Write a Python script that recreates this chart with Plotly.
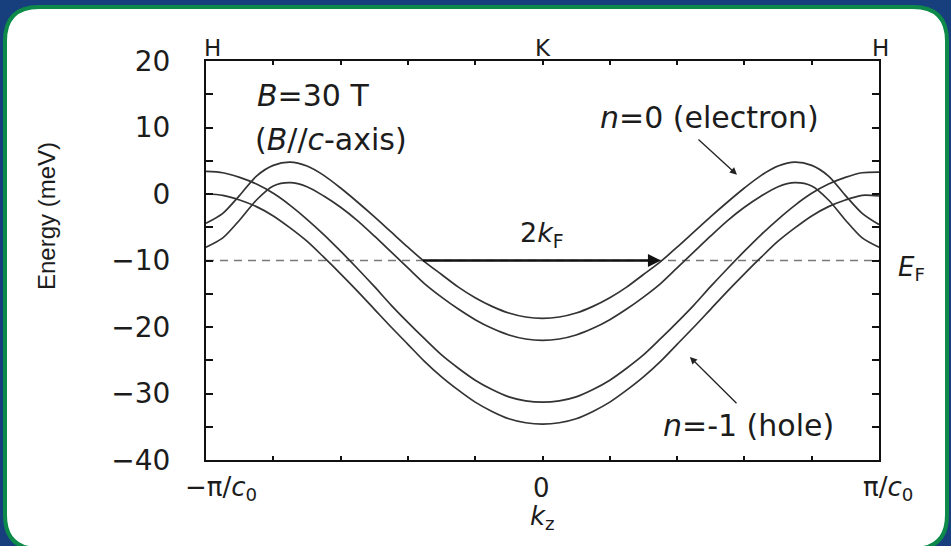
import plotly.graph_objects as go

# ---- data: Landau subband energies along k_z (units of pi/c0), B = 30 T ----
kz = [-1.00, -0.95, -0.90, -0.85, -0.80, -0.75, -0.70, -0.65, -0.60, -0.55, -0.50,
      -0.45, -0.40, -0.35, -0.30, -0.25, -0.20, -0.15, -0.10, -0.05, 0.00,
      0.05, 0.10, 0.15, 0.20, 0.25, 0.30, 0.35, 0.40, 0.45, 0.50,
      0.55, 0.60, 0.65, 0.70, 0.75, 0.80, 0.85, 0.90, 0.95, 1.00]

# n=0 (electron) pair
level_e1 = [-4.4, -2.9, -0.2, 2.7, 4.3, 4.8, 4.2, 2.8, 0.9, -1.2, -3.4,
            -5.7, -8.0, -10.2, -12.1, -14.0, -15.6, -16.9, -17.9, -18.5, -18.7,
            -18.5, -17.9, -16.9, -15.6, -14.0, -12.1, -10.2, -8.0, -5.7, -3.4,
            -1.2, 0.9, 2.8, 4.2, 4.8, 4.3, 2.7, -0.2, -2.9, -4.6]
level_e2 = [-8.0, -6.6, -3.9, -0.9, 1.2, 1.7, 1.1, -0.3, -2.0, -4.0, -6.3,
            -8.7, -11.1, -13.5, -15.5, -17.3, -18.9, -20.2, -21.2, -21.8, -22.0,
            -21.8, -21.2, -20.2, -18.9, -17.3, -15.5, -13.5, -11.1, -8.7, -6.3,
            -4.0, -2.0, -0.3, 1.1, 1.7, 1.2, -0.9, -3.9, -6.6, -8.0]
# n=-1 (hole) pair
level_h1 = [3.4, 3.2, 2.5, 1.5, 0.1, -1.7, -3.8, -6.1, -8.6, -11.2, -13.9,
            -16.7, -19.3, -21.8, -24.2, -26.2, -28.0, -29.4, -30.5, -31.1, -31.3,
            -31.1, -30.5, -29.4, -28.0, -26.2, -24.2, -21.8, -19.3, -16.7, -13.9,
            -11.2, -8.6, -6.1, -3.8, -1.7, 0.1, 1.5, 2.5, 3.2, 3.3]
level_h2 = [0.0, -0.2, -0.9, -1.9, -3.3, -5.1, -7.1, -9.5, -12.0, -14.6, -17.3,
            -20.0, -22.6, -25.2, -27.5, -29.5, -31.3, -32.7, -33.8, -34.4, -34.6,
            -34.4, -33.8, -32.7, -31.3, -29.5, -27.5, -25.2, -22.6, -20.0, -17.3,
            -14.6, -12.0, -9.5, -7.1, -5.1, -3.3, -1.9, -0.9, -0.2, -0.3]

fermi_energy = -10.0
kf_left, kf_right = -0.36, 0.352          # Fermi crossings of the upper n=0 level

x_tickvals = [-1.0, -0.8, -0.6, -0.4, -0.2, 0.0, 0.2, 0.4, 0.6, 0.8, 1.0]
x_label_points = [-1.0, 0.0, 1.0]
x_label_texts = ["\u2212\u03c0/<i>c</i><sub>0</sub>", "0", "\u03c0/<i>c</i><sub>0</sub>"]
top_points = [-1.0, 0.0, 1.0]
top_labels = ["H", "K", "H"]

# ---- page geometry (pixels) ----
W, H = 951, 546
ML, MR, MT, MB = 206, 72, 61, 86
PW, PH = W - ML - MR, H - MT - MB


def fx(px):
    return (px - ML) / PW


def fy(py):
    return (H - MB - py) / PH


INK = "#1c1c1c"
LINE = "#333333"
FONT = "DejaVu Sans"

fig = go.Figure()

fig.add_trace(go.Scatter(x=[-1, 1], y=[fermi_energy, fermi_energy], mode="lines",
                         line=dict(color="#7a7a7a", width=1.3, dash="8px,6px"),
                         hoverinfo="skip", showlegend=False))
for series in (level_e1, level_e2, level_h1, level_h2):
    fig.add_trace(go.Scatter(x=kz, y=series, mode="lines",
                             line=dict(color=LINE, width=1.7, shape="spline", smoothing=0.8),
                             showlegend=False))

# white rounded panel with green rim on the blue page
x0, x1, y0, y1, r = 5, 947, 7, 549, 34


def pt(px, py):
    return f"{fx(px):.5f},{fy(py):.5f}"


panel = (f"M {pt(x0 + r, y0)} L {pt(x1 - r, y0)} Q {pt(x1, y0)} {pt(x1, y0 + r)} "
         f"L {pt(x1, y1 - r)} Q {pt(x1, y1)} {pt(x1 - r, y1)} "
         f"L {pt(x0 + r, y1)} Q {pt(x0, y1)} {pt(x0, y1 - r)} "
         f"L {pt(x0, y0 + r)} Q {pt(x0, y0)} {pt(x0 + r, y0)} Z")
fig.add_shape(type="path", path=panel, xref="paper", yref="paper",
              fillcolor="white", line=dict(color="#0d8a4a", width=4), layer="below")


def label(px, py, text, size, anchor="left", family=FONT, angle=0):
    return dict(x=fx(px), y=fy(py), xref="paper", yref="paper", text=text,
                xanchor=anchor, yanchor="middle", showarrow=False, textangle=angle,
                font=dict(family=family, size=size, color=INK))


ann = []
# 2kF nesting arrow along the Fermi level
ann.append(dict(x=kf_right, y=fermi_energy, ax=kf_left, ay=fermi_energy,
                xref="x", yref="y", axref="x", ayref="y", text="",
                showarrow=True, arrowhead=2, arrowsize=1.0, arrowwidth=2.6,
                arrowcolor="#111111", standoff=0))
ann.append(label(542, 234, "2<i>k</i><sub>F</sub>", 27, anchor="center"))
# level labels with pointers
ann.append(label(598, 117, "<i>n</i>=0 (electron)", 30))
ann.append(dict(x=0.578, y=2.9, ax=0.459, ay=8.4, xref="x", yref="y", axref="x", ayref="y",
                text="", showarrow=True, arrowhead=2, arrowsize=1.1, arrowwidth=1.3,
                arrowcolor="#222222", standoff=0))
ann.append(label(661, 425, "<i>n</i>=-1 (hole)", 30))
ann.append(dict(x=0.438, y=-24.5, ax=0.581, ay=-31.7, xref="x", yref="y", axref="x", ayref="y",
                text="", showarrow=True, arrowhead=2, arrowsize=1.1, arrowwidth=1.3,
                arrowcolor="#222222", standoff=0))
# field conditions
ann.append(label(255, 95, "<i>B</i>=30 T", 30))
ann.append(label(253, 139, "(<i>B</i>//<i>c</i>-axis)", 30))
# Fermi level tag
ann.append(label(896, 268, "<i>E</i><sub>F</sub>", 26))
# high-symmetry points on the top edge
for kp, lab in zip(top_points, top_labels):
    ann.append(dict(x=kp, y=fy(48), xref="x", yref="paper", text=lab, showarrow=False,
                    xanchor="center", yanchor="middle",
                    xshift=6 if kp < 0 else (1 if kp > 0 else 0),
                    font=dict(family=FONT, size=23, color=INK)))
# k_z labels under the bottom edge
for kp, lab in zip(x_label_points, x_label_texts):
    ann.append(dict(x=kp, y=fy(488), xref="x", yref="paper", text=lab, showarrow=False,
                    xanchor="center", yanchor="middle",
                    xshift=15 if kp < 0 else (9 if kp > 0 else -1),
                    font=dict(family=FONT, size=26, color=INK)))
# axis titles
ann.append(label(542, 517, "<i>k</i><sub>z</sub>", 26, anchor="center"))
ann.append(label(46, 216, "Energy (meV)", 24, anchor="center",
                 family="Liberation Sans", angle=-90))

fig.update_layout(
    width=W, height=H,
    margin=dict(l=ML, r=MR, t=MT, b=MB, pad=0),
    paper_bgcolor="#173f7e",
    plot_bgcolor="rgba(0,0,0,0)",
    annotations=ann,
    showlegend=False,
)
fig.update_xaxes(range=[-1, 1], showgrid=False, zeroline=False,
                 showline=True, linecolor="#111111", linewidth=2, mirror="ticks",
                 ticks="inside", ticklen=4, tickwidth=1.5, tickcolor="#111111",
                 tickvals=x_tickvals, showticklabels=False)
fig.update_yaxes(range=[-40, 20], showgrid=False, zeroline=False,
                 showline=True, linecolor="#111111", linewidth=2, mirror="ticks",
                 ticks="inside", ticklen=7, tickwidth=1.5, tickcolor="#111111",
                 dtick=10, tick0=0,
                 minor=dict(dtick=5, ticks="inside", ticklen=7, tickwidth=1.5,
                            tickcolor="#111111", showgrid=False),
                 ticklabelstandoff=28,
                 tickfont=dict(family=FONT, size=28, color=INK))

fig.write_html("out.html")
